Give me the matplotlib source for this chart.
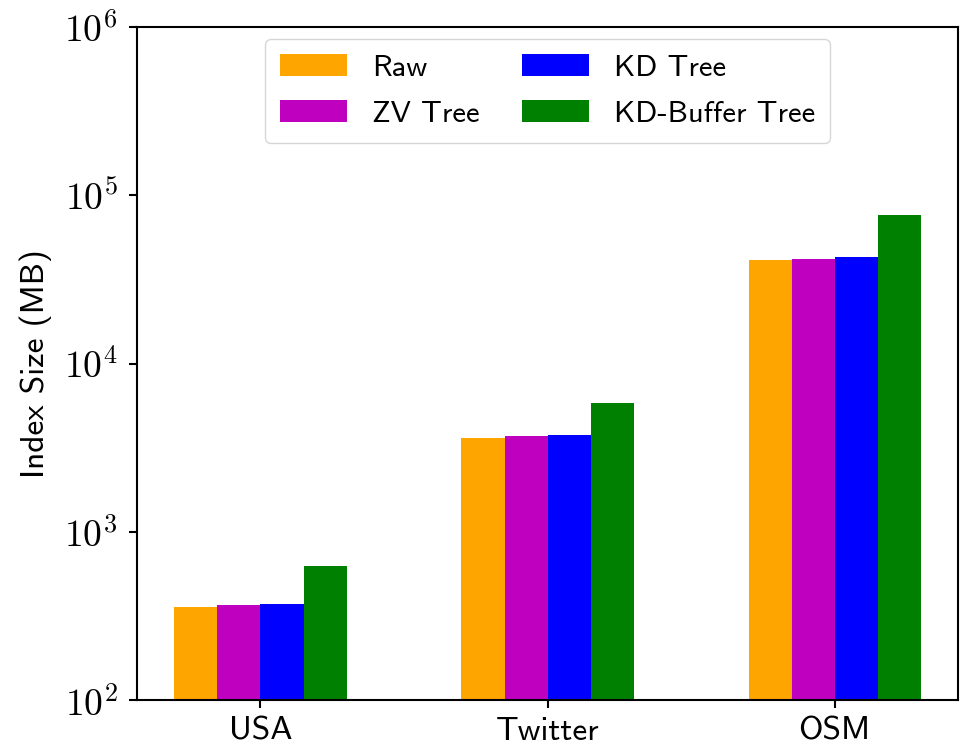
import os
import numpy as np
import matplotlib
matplotlib.use("Agg")
import matplotlib.pyplot as plt
from matplotlib import font_manager as fm
from matplotlib.ticker import FuncFormatter, LogLocator, NullLocator

# Computer Modern sans that ships with matplotlib
cmss = os.path.join(matplotlib.get_data_path(), "fonts", "ttf", "cmss10.ttf")
fm.fontManager.addfont(cmss)
plt.rcParams["font.family"] = ["cmss10", "DejaVu Sans"]
plt.rcParams["mathtext.fontset"] = "cm"
plt.rcParams["axes.unicode_minus"] = False

datasets = ["USA", "Twitter", "OSM"]
series = ["Raw", "ZV Tree", "KD Tree", "KD-Buffer Tree"]
colors = ["orange", "m", "b", "g"]

raw = [357, 3610, 41200]
zv_tree = [366, 3700, 42000]
kd_tree = [373, 3760, 42900]
kd_buffer_tree = [628, 5820, 76600]
values = [raw, zv_tree, kd_tree, kd_buffer_tree]

fig = plt.figure(figsize=(9.61, 7.48), dpi=100)
ax = fig.add_axes([0.1426, 0.064, 0.8544, 0.9])

x = np.arange(len(datasets))
w = 0.15
for i, (name, vals) in enumerate(zip(series, values)):
    ax.bar(x + (i - 1.5) * w, vals, w, color=colors[i], label=name)

ax.set_yscale("log")
ax.set_ylim(1e2, 1e6)
ax.yaxis.set_major_locator(LogLocator(base=10, numticks=10))
ax.yaxis.set_minor_locator(NullLocator())
ax.yaxis.set_major_formatter(FuncFormatter(lambda v, p: r"$10^{%d}$" % round(np.log10(v))))
ax.set_xticks(x)
ax.set_xticklabels(datasets)
ax.tick_params(axis="y", labelsize=27, width=1.5, length=6, pad=8)
ax.tick_params(axis="x", labelsize=24, width=1.5, length=6, pad=6)
for s in ax.spines.values():
    s.set_linewidth(1.5)
ax.set_ylabel("Index Size (MB)", fontsize=24, labelpad=9)

ax.legend(ncol=2, loc="upper center", fontsize=22, handlelength=2.2,
          columnspacing=1.4, labelspacing=0.6, borderpad=0.5,
          borderaxespad=0.4, bbox_to_anchor=(0.5, 1.0))

fig.savefig("out.png", dpi=100)
